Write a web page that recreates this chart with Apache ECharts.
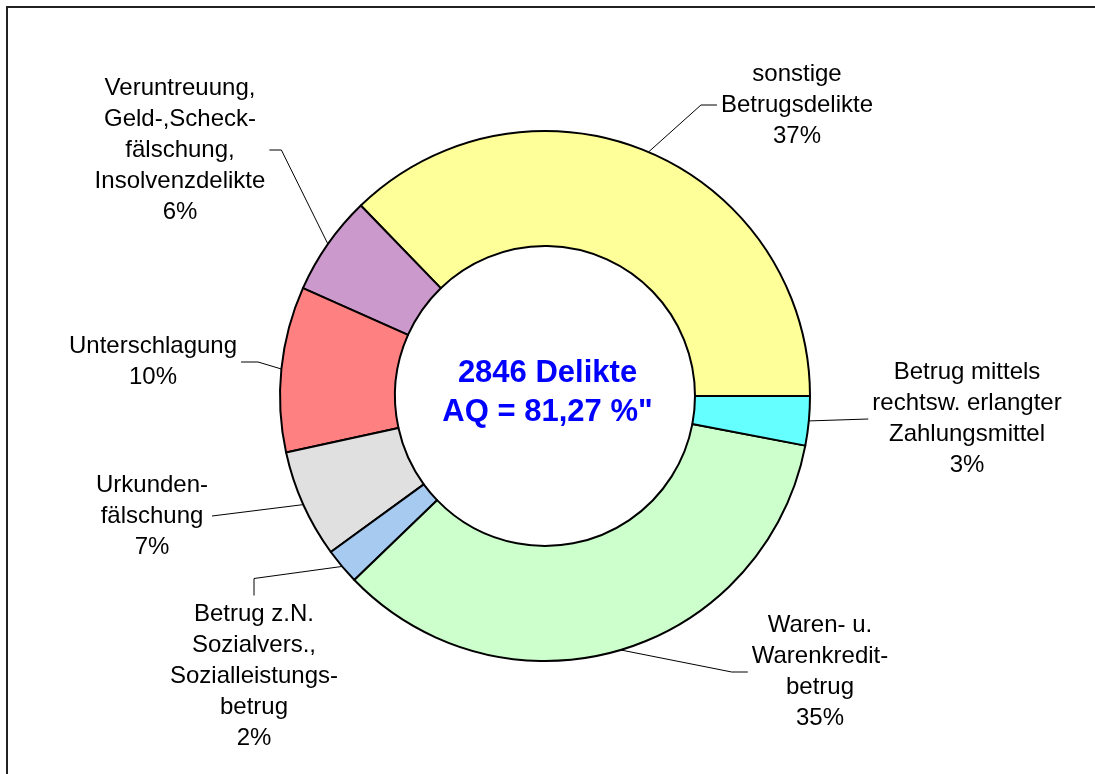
<!DOCTYPE html>
<html>
<head>
<meta charset="utf-8">
<script src="https://cdn.jsdelivr.net/npm/echarts@6/dist/echarts.min.js"></script>
<style>
  html, body { margin: 0; padding: 0; background: #fff; }
  #chart-panel { width: 1095px; height: 774px; }
</style>
</head>
<body>
<div id="chart-panel"></div>
<script>
// Anteile der Deliktsgruppen (in %), gegen den Uhrzeigersinn ab 3 Uhr
var categories = [
    'sonstige\nBetrugsdelikte',
    'Veruntreuung,\nGeld-,Scheck-\nfälschung,\nInsolvenzdelikte',
    'Unterschlagung',
    'Urkunden-\nfälschung',
    'Betrug z.N.\nSozialvers.,\nSozialleistungs-\nbetrug',
    'Waren- u.\nWarenkredit-\nbetrug',
    'Betrug mittels\nrechtsw. erlangter\nZahlungsmittel'
];
var shares = [37.25, 6.1, 10.1, 6.6, 2.2, 34.8, 3.0];
var centerLines = ['2846 Delikte', 'AQ = 81,27 %"'];

var sliceColors = ['#ffff99', '#cc99cc', '#ff8080', '#e0e0e0', '#a6caf0', '#ccffcc', '#66ffff'];

// Lage der Beschriftungen (Mitte des Textblocks) und Anschlussseite der Linie
var labelSpots = [
    { x: 797, y: 105, side: 'left', elbow: 16 },
    { x: 180, y: 150, side: 'right', elbow: 12 },
    { x: 153, y: 362, side: 'right', elbow: 17 },
    { x: 152, y: 516, side: 'right', elbow: 0 },
    { x: 254, y: 676, side: 'top', elbow: 17 },
    { x: 820, y: 672, side: 'left', elbow: 16 },
    { x: 967, y: 419, side: 'left', elbow: 0 }
];

var pieData = categories.map(function (name, i) {
    return { name: name, value: shares[i], itemStyle: { color: sliceColors[i] } };
});

var chartOption = {
    backgroundColor: '#fff',
    animation: false,
    textStyle: { fontFamily: '"Liberation Sans", Arial, sans-serif' },
    title: {
        text: centerLines.join('\n'),
        left: 'center',
        top: 354,
        padding: 0,
        textStyle: {
            color: '#0000ff',
            fontSize: 31,
            fontWeight: 'bold',
            lineHeight: 39,
            fontFamily: '"Liberation Sans", Arial, sans-serif'
        }
    },
    graphic: [{
        type: 'rect',
        silent: true,
        shape: { x: 7, y: 7, width: 1200, height: 1000 },
        style: { fill: 'none', stroke: '#222', lineWidth: 2 }
    }],
    series: [{
        type: 'pie',
        center: [545, 396],
        radius: [150, 265],
        startAngle: 0,
        clockwise: false,
        avoidLabelOverlap: false,
        percentPrecision: 0,
        data: pieData,
        itemStyle: {
            borderColor: '#000',
            borderWidth: 2
        },
        label: {
            show: true,
            position: 'outside',
            formatter: '{b}\n{d}%',
            color: '#000',
            fontSize: 24,
            lineHeight: 31,
            align: 'center',
            fontFamily: '"Liberation Sans", Arial, sans-serif'
        },
        labelLine: {
            show: true,
            smooth: false,
            lineStyle: { color: '#000', width: 1 }
        },
        labelLayout: function (params) {
            var spot = labelSpots[params.dataIndex];
            var w = params.labelRect.width;
            var h = params.labelRect.height;
            var start = params.labelLinePoints[0];
            var end, elbow;
            if (spot.side === 'left') {
                end = [spot.x - w / 2 - 4, spot.y];
                elbow = [end[0] - spot.elbow, spot.y];
            } else if (spot.side === 'right') {
                end = [spot.x + w / 2 + 4, spot.y];
                elbow = [end[0] + spot.elbow, spot.y];
            } else {
                end = [spot.x, spot.y - h / 2 - 3];
                elbow = [spot.x, end[1] - spot.elbow];
            }
            return {
                x: spot.x,
                y: spot.y,
                align: 'center',
                verticalAlign: 'middle',
                labelLinePoints: [start, elbow, end]
            };
        }
    }]
};

var myChart = echarts.init(document.getElementById('chart-panel'));
myChart.setOption(chartOption);
</script>
</body>
</html>
